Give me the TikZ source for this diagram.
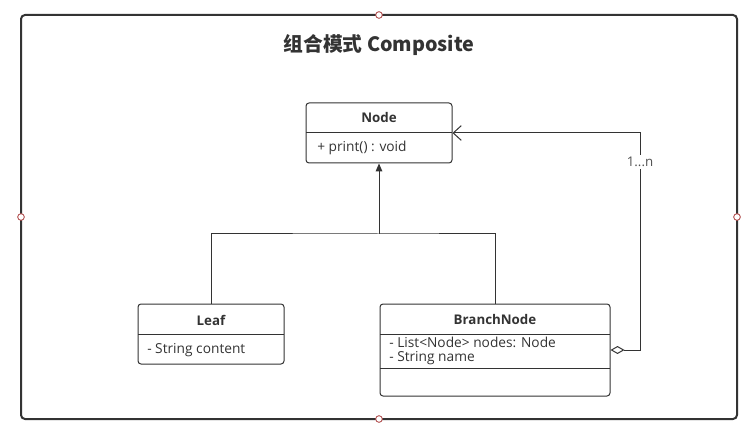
\documentclass[tikz,border=0pt]{standalone}
\usepackage{fontspec}
\setmainfont{Open Sans}
\newfontfamily\cjk{Noto Sans CJK SC}
\usetikzlibrary{arrows.meta}
\definecolor{inkgray}{RGB}{51,51,51}
\definecolor{handlered}{RGB}{170,60,60}

\begin{document}
\begin{tikzpicture}[x=0.75pt,y=-0.75pt,
  classbox/.style={draw=inkgray, line width=0.75pt, rounded corners=2.25pt, inner sep=0pt},
  classname/.style={font=\bfseries\fontsize{10}{12}\selectfont, text=inkgray},
  member/.style={font=\fontsize{10.3}{12}\selectfont, text=inkgray, anchor=west, align=left, inner sep=0pt},
  handle/.style={draw=handlered, fill=white, circle, inner sep=0pt, minimum size=5pt, line width=0.6pt}]
\useasboundingbox (0,0) rectangle (752,434);
% outer frame
\draw[inkgray, line width=1.5pt, rounded corners=3pt] (21,15) rectangle (737,419);
\node[handle] (hn) at (379,15) {};
\node[handle] (hs) at (379,419) {};
\node[handle] (hw) at (21,217) {};
\node[handle] (he) at (737,217) {};
\node[font=\cjk\bfseries\fontsize{14.8}{17}\selectfont, text=inkgray] (title) at (379,45) {组合模式 Composite};

% Node
\node[classbox, minimum width=109.5pt, minimum height=45pt] (node) at (379,133) {};
\draw[inkgray, line width=0.75pt] (306,133) -- (452,133);
\node[classname] (nodename) at (379,118) {Node};
\node[member] (nodeops) at (317,148) {+ print() : void};

% Leaf
\node[classbox, minimum width=109.5pt, minimum height=45pt] (leaf) at (211,334) {};
\draw[inkgray, line width=0.75pt] (138,334) -- (284,334);
\node[classname] (leafname) at (211,320) {Leaf};
\node[member] (leafattr) at (147,350) {- String content};

% BranchNode
\node[classbox, minimum width=172.5pt, minimum height=69pt] (branch) at (495,350) {};
\draw[inkgray, line width=0.75pt] (380,334) -- (610,334);
\draw[inkgray, line width=0.75pt] (380,368) -- (610,368);
\node[classname] (branchname) at (495,320) {BranchNode};
\node[member] (branchattr1) at (389,342) {- List<Node> nodes: Node};
\node[member] (branchattr2) at (389,358) {- String name};

% inheritance
\coordinate (joint) at (379,234);
\draw[inkgray, line width=0.75pt] (leaf.north) |- (joint) -| (branch.north);
\draw[inkgray, line width=0.75pt, -{Triangle[length=6pt,width=5pt]}] (joint) -- (node.south);

% aggregation
\coordinate (bend1) at (640,350);
\coordinate (bend2) at (640,133);
\draw[inkgray, line width=0.75pt, {Diamond[open,length=10.5pt,width=6pt]}-{Straight Barb[length=6pt,width=11pt]}]
  (branch.east) -- (bend1) -- (bend2) -- (node.east);
\node[fill=white, font=\fontsize{10}{12}\selectfont, text=inkgray!85, inner sep=1.5pt] (mult) at (640,162) {1...n};
\end{tikzpicture}
\end{document}
